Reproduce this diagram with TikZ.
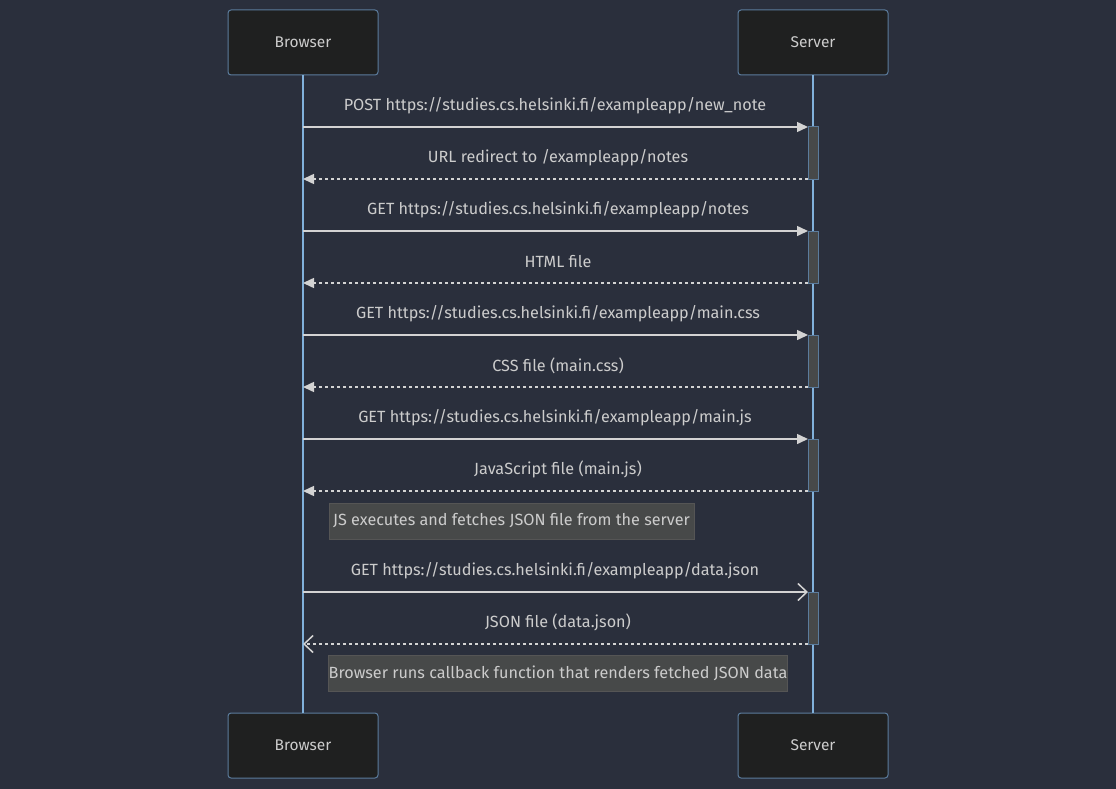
\documentclass[tikz,border=0pt]{standalone}
\usepackage{fontspec}
\setmainfont{Fira Sans}
\usetikzlibrary{arrows.meta}

\definecolor{bgcol}{HTML}{2A2F3C}
\definecolor{actorfill}{HTML}{1F2020}
\definecolor{actoredge}{HTML}{5B7C9D}
\definecolor{lifecol}{HTML}{81B1DB}
\definecolor{txtcol}{HTML}{CCCCCC}
\definecolor{msgcol}{HTML}{D3D3D3}
\definecolor{actfill}{HTML}{474949}
\definecolor{notefill}{HTML}{474949}
\definecolor{noteedge}{HTML}{555555}

\begin{document}
\begin{tikzpicture}[x=1pt, y=-1pt,
    actor/.style={draw=actoredge, fill=actorfill, line width=1pt, rounded corners=3pt,
      minimum width=150pt, minimum height=65pt, text=txtcol, font=\fontsize{15.5}{18}\selectfont},
    lifeline/.style={draw=lifecol, line width=1.5pt},
    msg/.style={draw=msgcol, line width=1.5pt, -{Triangle[length=11pt,width=10pt]}},
    reply/.style={msg, dash pattern=on 3pt off 3pt},
    asyncmsg/.style={draw=msgcol, line width=1.5pt, -{Straight Barb[length=9pt,width=17pt,line width=1.5pt]}},
    asyncreply/.style={asyncmsg, dash pattern=on 3pt off 3pt},
    lbl/.style={text=txtcol, font=\fontsize{16.2}{19}\selectfont},
    actbox/.style={draw=actoredge, fill=actfill, line width=1pt},
    notebox/.style={draw=noteedge, fill=notefill, line width=1pt, minimum height=36pt,
      text=txtcol, font=\fontsize{16.2}{19}\selectfont, inner sep=0pt}]

    % 1. background
    \fill[bgcol] (0,0) rectangle (1116,789);
    \useasboundingbox (0,0) rectangle (1116,789);

    % 2. actors and lifelines
    \node[actor] (browserTop) at (303,42.5) {\raisebox{-1.5pt}{Browser}};
    \node[actor] (serverTop) at (813,42.5) {\raisebox{-1.5pt}{Server}};
    \node[actor] (browserBot) at (303,745.5) {\raisebox{-1.5pt}{Browser}};
    \node[actor] (serverBot) at (813,745.5) {\raisebox{-1.5pt}{Server}};
    \draw[lifeline] (browserTop.south) -- (browserBot.north);
    \draw[lifeline] (serverTop.south) -- (serverBot.north);

    % 3. activation boxes on the server
    \draw[actbox] (808,127) rectangle (818,179);
    \draw[actbox] (808,231) rectangle (818,283);
    \draw[actbox] (808,335) rectangle (818,387);
    \draw[actbox] (808,439) rectangle (818,491);
    \draw[actbox] (808,592) rectangle (818,644);

    % 4. points where the messages meet the lifelines
    \coordinate (b1) at (303,127); \coordinate (s1) at (808,127);
    \coordinate (b2) at (303,179); \coordinate (s2) at (808,179);
    \coordinate (b3) at (303,231); \coordinate (s3) at (808,231);
    \coordinate (b4) at (303,283); \coordinate (s4) at (808,283);
    \coordinate (b5) at (303,335); \coordinate (s5) at (808,335);
    \coordinate (b6) at (303,387); \coordinate (s6) at (808,387);
    \coordinate (b7) at (303,439); \coordinate (s7) at (808,439);
    \coordinate (b8) at (303,491); \coordinate (s8) at (808,491);
    \coordinate (b9) at (303,592); \coordinate (s9) at (808,592);
    \coordinate (b10) at (303,644); \coordinate (s10) at (808,644);

    % 5. messages
    \draw[msg] (b1) -- (s1);
    \node[lbl] (m1) at (555,105.5) {POST https://studies.cs.helsinki.fi/exampleapp/new\_note};
    \draw[reply] (s2) -- (b2);
    \node[lbl] (m2) at (558,157.5) {URL redirect to /exampleapp/notes};
    \draw[msg] (b3) -- (s3);
    \node[lbl] (m3) at (558,209.5) {GET https://studies.cs.helsinki.fi/exampleapp/notes};
    \draw[reply] (s4) -- (b4);
    \node[lbl] (m4) at (558,261.5) {HTML file};
    \draw[msg] (b5) -- (s5);
    \node[lbl] (m5) at (558,313.5) {GET https://studies.cs.helsinki.fi/exampleapp/main.css};
    \draw[reply] (s6) -- (b6);
    \node[lbl] (m6) at (558,365.5) {CSS file (main.css)};
    \draw[msg] (b7) -- (s7);
    \node[lbl] (m7) at (555,417.5) {GET https://studies.cs.helsinki.fi/exampleapp/main.js};
    \draw[reply] (s8) -- (b8);
    \node[lbl] (m8) at (558,469.5) {JavaScript file (main.js)};
    \draw[asyncmsg] (b9) -- (s9);
    \node[lbl] (m9) at (555,570.5) {GET https://studies.cs.helsinki.fi/exampleapp/data.json};
    \draw[asyncreply] (s10) -- (b10);
    \node[lbl] (m10) at (558,622.5) {JSON file (data.json)};

    % 6. notes
    \node[notebox, minimum width=365pt] (note1) at (511.5,521) {\raisebox{-1pt}{JS executes and fetches JSON file from the server}};
    \node[notebox, minimum width=458pt] (note2) at (558,673) {\raisebox{-1pt}{Browser runs callback function that renders fetched JSON data}};
\end{tikzpicture}
\end{document}
